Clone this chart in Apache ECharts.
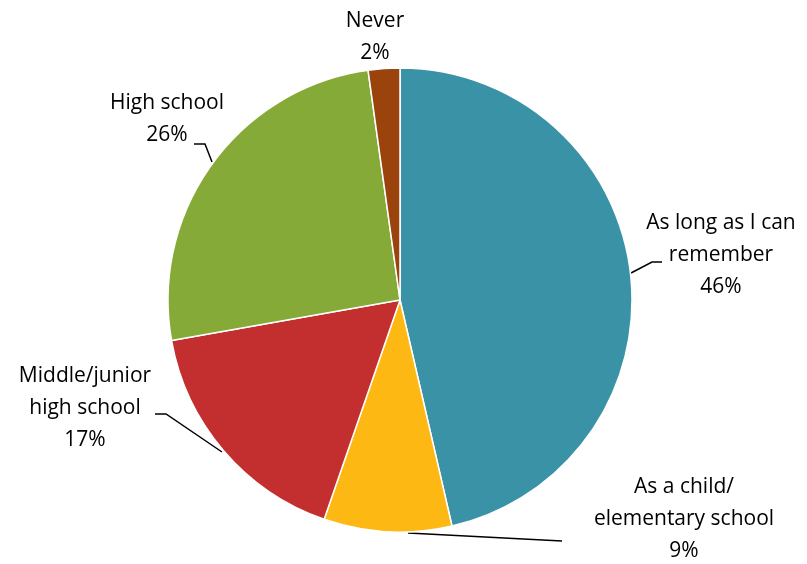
<!DOCTYPE html>
<html>
<head>
<meta charset="utf-8">
<script src="https://cdn.jsdelivr.net/npm/echarts@6/dist/echarts.min.js"></script>
<style>html,body{margin:0;padding:0;background:#fff}#c{width:807px;height:564px}</style>
</head>
<body>
<div id="c"></div>
<script>
const categories = ['As long as I can\nremember', 'As a child/\nelementary school', 'Middle/junior\nhigh school', 'High school', 'Never'];
const values = [46.4, 8.9, 16.9, 25.6, 2.2];
const colors = ['#3a92a7', '#fdb813', '#c32e2e', '#86aa37', '#9a430c'];

// label anchor positions and leader-line bends (layout only)
const labelPos = [
  {x: 721, y: 255}, {x: 684, y: 519}, {x: 85, y: 408}, {x: 167, y: 119}, {x: 375, y: 37}
];
const linePts = [
  [[631, 273], [652, 262], [662, 262]],
  [[408, 533], [562, 541]],
  [[222, 452], [166, 414], [155, 414]],
  [[212, 162], [205, 144], [194, 144]],
  null
];

const chart = echarts.init(document.getElementById('c'));
chart.setOption({
  animation: false,
  series: [{
    type: 'pie',
    center: [400, 300],
    radius: 232,
    startAngle: 90,
    clockwise: true,
    data: categories.map((n, i) => ({
      name: n, value: values[i], itemStyle: {color: colors[i]},
      labelLine: {show: linePts[i] !== null}
    })),
    itemStyle: {borderColor: '#fff', borderWidth: 1.5},
    label: {
      show: true,
      formatter: p => p.name + '\n' + Math.round(p.percent) + '%',
      fontFamily: 'Open Sans',
      fontSize: 21,
      lineHeight: 32,
      color: '#000',
      align: 'center',
      overflow: 'none'
    },
    labelLine: {show: true, lineStyle: {color: '#000', width: 1.5}},
    labelLayout: p => {
      const o = {
        x: labelPos[p.dataIndex].x,
        y: labelPos[p.dataIndex].y,
        align: 'center',
        verticalAlign: 'middle'
      };
      if (linePts[p.dataIndex]) o.labelLinePoints = linePts[p.dataIndex];
      return o;
    }
  }]
});
</script>
</body>
</html>
